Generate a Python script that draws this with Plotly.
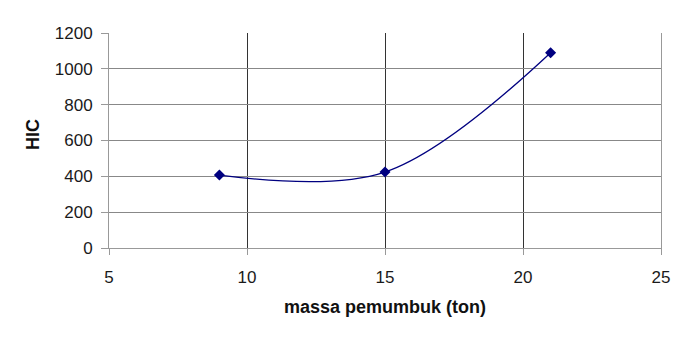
import plotly.graph_objects as go

massa = [9, 15, 21]
hic = [407, 424, 1090]
x_ticks = [5, 10, 15, 20, 25]
y_ticks = [0, 200, 400, 600, 800, 1000, 1200]

fig = go.Figure()
fig.add_trace(go.Scatter(
    x=massa, y=hic, mode="lines+markers",
    line=dict(color="#000080", width=1.3, shape="spline", smoothing=1.0),
    marker=dict(symbol="diamond", size=8.5, color="#000080"),
    showlegend=False,
))

font = "Liberation Sans, Arial, sans-serif"
fig.update_layout(
    width=696, height=340,
    margin=dict(l=109, r=35, t=33, b=92),
    paper_bgcolor="white", plot_bgcolor="white",
    font=dict(family=font, size=17, color="#1a1a1a"),
    xaxis=dict(
        range=[5, 25], tickvals=x_ticks, showgrid=True, gridcolor="#333333", gridwidth=1,
        showline=True, linecolor="#999999", linewidth=1, mirror=False,
        ticks="outside", ticklen=6, tickcolor="#999999", zeroline=False,
        ticklabelstandoff=8,
    ),
    yaxis=dict(
        range=[0, 1200], tickvals=y_ticks, showgrid=True, gridcolor="#888888", gridwidth=1,
        showline=True, linecolor="#999999", linewidth=1, mirror=True,
        ticks="outside", ticklen=7, tickcolor="#999999", zeroline=False,
        ticklabelstandoff=5,
    ),
    annotations=[
        dict(text="<b>massa pemumbuk (ton)</b>", xref="paper", yref="paper",
             x=0.5, y=-(307 - 248) / 215, xanchor="center", yanchor="middle",
             showarrow=False, font=dict(size=18, color="#111111")),
        dict(text="<b>HIC</b>", xref="paper", yref="paper",
             x=-(109 - 33) / 552, y=(248 - 135) / 215, xanchor="center", yanchor="middle",
             textangle=-90, showarrow=False, font=dict(size=18, color="#111111")),
    ],
)
fig.write_html("out.html")
